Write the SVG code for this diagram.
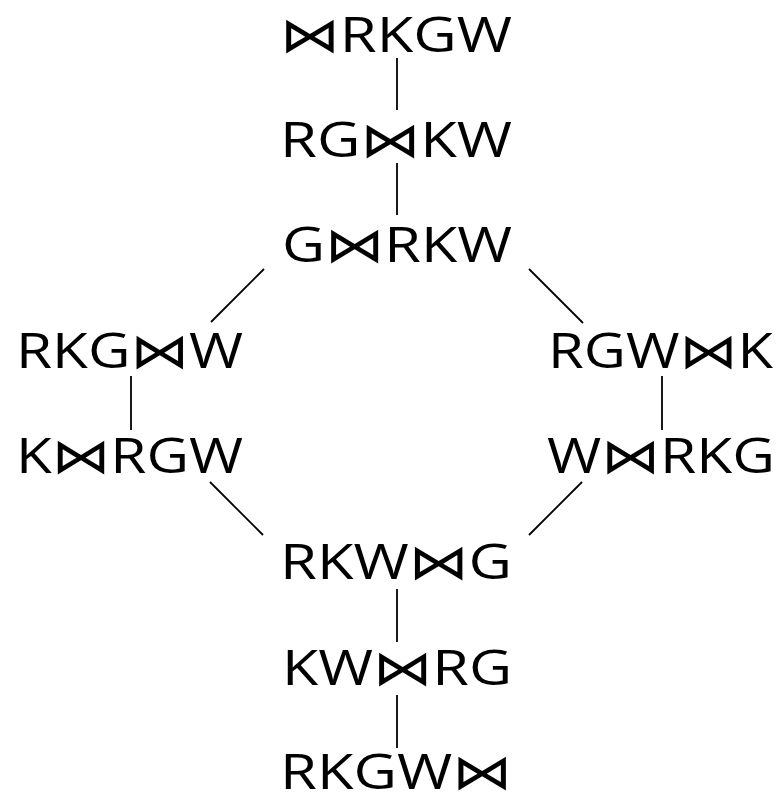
<svg xmlns="http://www.w3.org/2000/svg" width="783" height="796" viewBox="0 0 783 796">
<style>
text{font-family:"Open Sans","DejaVu Sans",sans-serif;font-size:49px;font-weight:400;fill:#000;text-anchor:middle}
line{stroke:#000;stroke-width:1.8}
</style>
<rect width="783" height="796" fill="#fff"/>
<g id="connectors">
<line x1="397" y1="58" x2="397" y2="110"/>
<line x1="397" y1="163" x2="397" y2="215"/>
<line x1="264" y1="269" x2="211" y2="322"/>
<line x1="529" y1="269" x2="583" y2="323"/>
<line x1="131" y1="376" x2="131" y2="430"/>
<line x1="662" y1="376" x2="662" y2="430"/>
<line x1="210" y1="482" x2="263" y2="535"/>
<line x1="582" y1="482" x2="529" y2="535"/>
<line x1="397" y1="589" x2="397" y2="642"/>
<line x1="397" y1="695" x2="397" y2="748"/>
</g>
<g id="n1"><text x="396" y="52" textLength="232" lengthAdjust="spacingAndGlyphs">⋈RKGW</text></g>
<g id="n2"><text x="396" y="157" textLength="232" lengthAdjust="spacingAndGlyphs">RG⋈KW</text></g>
<g id="n3"><text x="397" y="262" textLength="230" lengthAdjust="spacingAndGlyphs">G⋈RKW</text></g>
<g id="n4"><text x="129.5" y="368" textLength="227" lengthAdjust="spacingAndGlyphs">RKG⋈W</text></g>
<g id="n5"><text x="660.5" y="368" textLength="225" lengthAdjust="spacingAndGlyphs">RGW⋈K</text></g>
<g id="n6"><text x="129.5" y="473" textLength="227" lengthAdjust="spacingAndGlyphs">K⋈RGW</text></g>
<g id="n7"><text x="661" y="473" textLength="228" lengthAdjust="spacingAndGlyphs">W⋈RKG</text></g>
<g id="n8"><text x="396" y="579" textLength="232" lengthAdjust="spacingAndGlyphs">RKW⋈G</text></g>
<g id="n9"><text x="397" y="685" textLength="230" lengthAdjust="spacingAndGlyphs">KW⋈RG</text></g>
<g id="n10"><text x="396" y="789" textLength="232" lengthAdjust="spacingAndGlyphs">RKGW⋈</text></g>
</svg>
